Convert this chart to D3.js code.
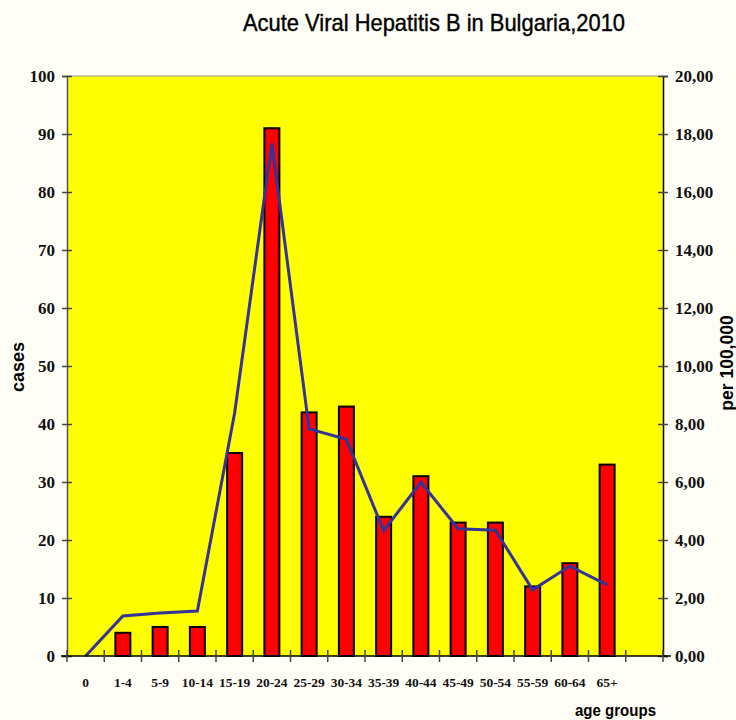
<!DOCTYPE html>
<html>
<head>
<meta charset="utf-8">
<script src="https://cdn.jsdelivr.net/npm/d3@7"></script>
<style>
  html, body { margin: 0; padding: 0; background: #fefef6; }
  svg { display: block; }
</style>
</head>
<body>
<svg id="chart" width="736" height="720"></svg>
<script>
// Age groups (the last band is left empty, as on the original axis)
const ageGroups = ["0", "1-4", "5-9", "10-14", "15-19", "20-24", "25-29", "30-34",
                   "35-39", "40-44", "45-49", "50-54", "55-59", "60-64", "65+", ""];
// Number of cases per age group
const cases = [0, 4, 5, 5, 35, 91, 42, 43, 24, 31, 23, 23, 12, 16, 33];
// Incidence per 100,000 population
const incidence = [0, 1.38, 1.48, 1.55, 8.38, 17.68, 7.83, 7.47, 4.32, 5.99, 4.39, 4.34, 2.28, 3.10, 2.45];
const leftTicks = [0, 10, 20, 30, 40, 50, 60, 70, 80, 90, 100];
const rightTicks = [0, 2, 4, 6, 8, 10, 12, 14, 16, 18, 20];

const svg = d3.select("#chart");
const plotL = 67, plotR = 663, plotT = 76, plotB = 656;

const x = d3.scaleBand().domain(ageGroups).range([plotL, plotR]);
const yL = d3.scaleLinear().domain([0, 100]).range([plotB, plotT]);
const yR = d3.scaleLinear().domain([0, 20]).range([plotB, plotT]);
const fmt = v => d3.format(".2f")(v).replace(".", ",");

// plot area
svg.append("rect").attr("x", plotL).attr("y", plotT)
  .attr("width", plotR - plotL).attr("height", plotB - plotT)
  .attr("fill", "#ffff00");
svg.append("line").attr("x1", plotL).attr("x2", plotR).attr("y1", plotT).attr("y2", plotT)
  .attr("stroke", "#999").attr("stroke-width", 1);

// bars
const data = ageGroups.slice(0, cases.length).map((g, i) => ({ g, c: cases[i], r: incidence[i] }));
const barW = 15;
svg.append("g").selectAll("rect").data(data.filter(d => d.c > 0)).join("rect")
  .attr("x", d => x(d.g) + x.bandwidth() / 2 - barW / 2)
  .attr("y", d => yL(d.c))
  .attr("width", barW)
  .attr("height", d => yL(0) - yL(d.c))
  .attr("fill", "#ff0000")
  .attr("stroke", "#000")
  .attr("stroke-width", 2);

// incidence line
svg.append("path").datum(data)
  .attr("fill", "none")
  .attr("stroke", "#333399")
  .attr("stroke-width", 3)
  .attr("stroke-linejoin", "miter")
  .attr("d", d3.line().x(d => x(d.g) + x.bandwidth() / 2).y(d => yR(d.r)));

// left axis
const gL = svg.append("g").attr("transform", `translate(${plotL},0)`)
  .call(d3.axisLeft(yL).tickValues(leftTicks).tickSize(5).tickPadding(7).tickFormat(d3.format("d")));
gL.select(".domain").attr("stroke", "#555").attr("stroke-width", 1.5);
gL.selectAll(".tick line").attr("x2", 5).attr("x1", -5).attr("stroke", "#444").attr("stroke-width", 1.5);
gL.selectAll("text").attr("font-family", "'Liberation Serif', 'Times New Roman', serif")
  .attr("font-weight", "bold").attr("font-size", 17).attr("fill", "#111").attr("x", -12);

// right axis
const gR = svg.append("g").attr("transform", `translate(${plotR},0)`)
  .call(d3.axisRight(yR).tickValues(rightTicks).tickSize(5).tickPadding(7).tickFormat(fmt));
gR.select(".domain").attr("stroke", "#000").attr("stroke-width", 1.5);
gR.selectAll(".tick line").attr("x1", -5).attr("x2", 5).attr("stroke", "#444").attr("stroke-width", 1.5);
gR.selectAll("text").attr("font-family", "'Liberation Serif', 'Times New Roman', serif")
  .attr("font-weight", "bold").attr("font-size", 17).attr("fill", "#111").attr("x", 12);

// bottom axis: ticks between bands
const gB = svg.append("g").attr("transform", `translate(0,${plotB})`);
gB.append("line").attr("x1", plotL - 6).attr("x2", plotR + 8).attr("stroke", "#000").attr("stroke-width", 1.5);
const edges = ageGroups.map(g => x(g)).concat([plotR]);
gB.selectAll("line.tk").data(edges).join("line").attr("class", "tk")
  .attr("x1", d => d).attr("x2", d => d).attr("y1", -6).attr("y2", 6)
  .attr("stroke", "#444").attr("stroke-width", 1.5);
gB.selectAll("text").data(ageGroups.filter(g => g !== "")).join("text")
  .attr("x", d => x(d) + x.bandwidth() / 2)
  .attr("y", 31)
  .attr("text-anchor", "middle")
  .attr("font-family", "'Liberation Serif', 'Times New Roman', serif")
  .attr("font-weight", "bold").attr("font-size", 13.5).attr("fill", "#111")
  .text(d => d);

// titles
svg.append("text").attr("x", 243).attr("y", 31)
  .attr("font-family", "'Liberation Sans Narrow', 'Arial Narrow', 'Liberation Sans', sans-serif")
  .attr("font-size", 24).attr("fill", "#000").attr("stroke", "#000").attr("stroke-width", 0.4)
  .attr("textLength", 382).attr("lengthAdjust", "spacingAndGlyphs")
  .text("Acute Viral Hepatitis B in Bulgaria,2010");

svg.append("text").attr("transform", "translate(24,367) rotate(-90)")
  .attr("text-anchor", "middle")
  .attr("font-family", "'Liberation Sans', Arial, sans-serif")
  .attr("font-weight", "bold").attr("font-size", 18).attr("fill", "#000")
  .text("cases");

svg.append("text").attr("transform", "translate(733,363) rotate(-90)")
  .attr("text-anchor", "middle")
  .attr("font-family", "'Liberation Sans', Arial, sans-serif")
  .attr("font-weight", "bold").attr("font-size", 17.5).attr("fill", "#000")
  .text("per 100,000");

svg.append("text").attr("x", 656).attr("y", 716)
  .attr("text-anchor", "end")
  .attr("font-family", "'Liberation Sans', Arial, sans-serif")
  .attr("font-weight", "bold").attr("font-size", 17).attr("fill", "#000")
  .attr("textLength", 81).attr("lengthAdjust", "spacingAndGlyphs")
  .text("age groups");
</script>
</body>
</html>
